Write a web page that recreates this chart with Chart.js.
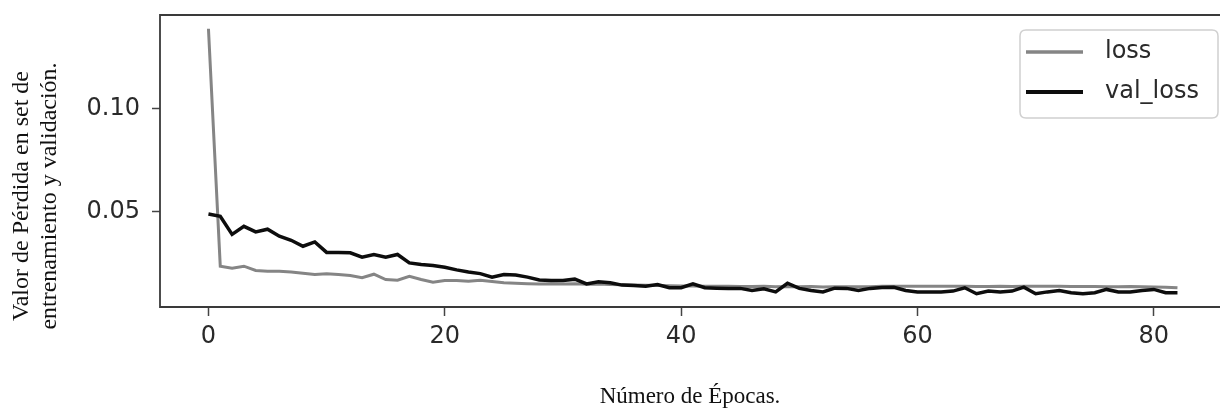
<!DOCTYPE html>
<html>
<head>
<meta charset="utf-8">
<script src="https://cdn.jsdelivr.net/npm/chart.js@4.4.1/dist/chart.umd.min.js"></script>
<style>
html,body{margin:0;padding:0;overflow:hidden;background:#fff;width:1220px;height:410px}
#wrap{position:absolute;left:0;top:0;width:1220px;height:410px}
</style>
</head>
<body>
<div id="wrap"><canvas id="c"></canvas></div>
<script>
const epochs = [0,1,2,3,4,5,6,7,8,9,10,11,12,13,14,15,16,17,18,19,20,21,22,23,24,25,26,27,28,29,30,31,32,33,34,35,36,37,38,39,40,41,42,43,44,45,46,47,48,49,50,51,52,53,54,55,56,57,58,59,60,61,62,63,64,65,66,67,68,69,70,71,72,73,74,75,76,77,78,79,80,81,82];
const loss = [0.1388,0.0233,0.0223,0.0233,0.0212,0.0209,0.0209,0.0205,0.0199,0.0193,
  0.0196,0.0193,0.0188,0.0177,0.0194,0.0168,0.0165,0.0184,0.0168,0.0155,
  0.0163,0.0163,0.0160,0.0165,0.0158,0.0152,0.0150,0.0148,0.0146,0.0147,
  0.0146,0.0148,0.0145,0.0146,0.0144,0.0143,0.0141,0.0140,0.0139,0.0138,
  0.0137,0.0137,0.0136,0.0135,0.0136,0.0134,0.0134,0.0135,0.0133,0.0134,
  0.0133,0.0134,0.0132,0.0133,0.0133,0.0133,0.0133,0.0135,0.0136,0.0136,
  0.0136,0.0136,0.0135,0.0135,0.0135,0.0134,0.0134,0.0135,0.0134,0.0135,
  0.0136,0.0136,0.0135,0.0134,0.0134,0.0134,0.0133,0.0133,0.0134,0.0133,
  0.0132,0.0131,0.0128];
const valLoss = [0.0487,0.0476,0.0388,0.0427,0.0400,0.0413,0.0379,0.0359,0.0330,0.0351,
  0.0300,0.0300,0.0298,0.0277,0.0290,0.0277,0.0290,0.0249,0.0241,0.0236,
  0.0228,0.0215,0.0205,0.0197,0.0180,0.0193,0.0190,0.0180,0.0166,0.0163,
  0.0163,0.0170,0.0147,0.0157,0.0152,0.0141,0.0139,0.0136,0.0144,0.0128,
  0.0128,0.0147,0.0128,0.0126,0.0125,0.0125,0.0115,0.0123,0.0108,0.0150,
  0.0125,0.0115,0.0108,0.0126,0.0125,0.0115,0.0125,0.0129,0.0130,0.0115,
  0.0108,0.0108,0.0108,0.0112,0.0128,0.0099,0.0112,0.0108,0.0112,0.0131,
  0.0099,0.0108,0.0115,0.0104,0.0099,0.0104,0.0120,0.0108,0.0108,0.0115,
  0.0120,0.0104,0.0104];
const xTicks = [0,20,40,60,80];
const yTicks = [0.05,0.10];
const seriesLabels = ['loss','val_loss'];
const xTitle = 'Número de Épocas.';
const yTitleLines = ['Valor de Pérdida en set de','entrenamiento y validación.'];

const toPoints = (xs, ys) => ys.map((v,i)=>({x:xs[i], y:v}));

const frameAndLegend = {
  id:'frameAndLegend',
  afterDraw(chart){
    const ctx = chart.ctx, a = chart.chartArea;
    ctx.save();
    // axes frame (right side falls outside the picture)
    ctx.strokeStyle = '#3a3a3a';
    ctx.lineWidth = 1.8;
    ctx.beginPath();
    ctx.moveTo(a.right + 2, a.top); ctx.lineTo(a.left, a.top);
    ctx.lineTo(a.left, a.bottom); ctx.lineTo(a.right + 2, a.bottom);
    ctx.stroke();
    // legend box
    const bx = 1020, by = 30, bw = 198, bh = 88, r = 6;
    ctx.beginPath();
    ctx.moveTo(bx+r,by); ctx.lineTo(bx+bw-r,by); ctx.quadraticCurveTo(bx+bw,by,bx+bw,by+r);
    ctx.lineTo(bx+bw,by+bh-r); ctx.quadraticCurveTo(bx+bw,by+bh,bx+bw-r,by+bh);
    ctx.lineTo(bx+r,by+bh); ctx.quadraticCurveTo(bx,by+bh,bx,by+bh-r);
    ctx.lineTo(bx,by+r); ctx.quadraticCurveTo(bx,by,bx+r,by);
    ctx.closePath();
    ctx.fillStyle = 'rgba(255,255,255,0.85)';
    ctx.fill();
    ctx.strokeStyle = '#d0d0d0';
    ctx.lineWidth = 1.5;
    ctx.stroke();
    const rows = [52, 92];
    chart.data.datasets.forEach((ds,i)=>{
      const y = rows[i];
      ctx.beginPath();
      ctx.strokeStyle = ds.borderColor;
      ctx.lineWidth = ds.borderWidth + 0.5;
      ctx.moveTo(1026,y); ctx.lineTo(1083,y); ctx.stroke();
      ctx.fillStyle = '#2a2a2a';
      ctx.font = '24px "DejaVu Sans"';
      ctx.textAlign = 'left';
      ctx.textBaseline = 'middle';
      ctx.fillText(ds.label, 1105, y);
    });
    // y axis title (two lines, rotated)
    ctx.translate(22, 196);
    ctx.rotate(-Math.PI/2);
    ctx.fillStyle = '#111';
    ctx.font = '24px "Liberation Serif"';
    ctx.textAlign = 'center';
    ctx.textBaseline = 'middle';
    yTitleLines.forEach((t,i)=>ctx.fillText(t, 0, i*28));
    ctx.restore();
  }
};

new Chart(document.getElementById('c'), {
  type:'line',
  data:{
    datasets:[
      {label:seriesLabels[0], data:toPoints(epochs, loss), borderColor:'#858585', borderWidth:3, pointRadius:0, tension:0, order:1},
      {label:seriesLabels[1], data:toPoints(epochs, valLoss), borderColor:'#0d0d0d', borderWidth:3.5, pointRadius:0, tension:0, order:0}
    ]
  },
  options:{
    responsive:true,
    maintainAspectRatio:false,
    animation:false,
    layout:{padding:{left:0,right:0,top:15,bottom:0}},
    plugins:{legend:{display:false}, tooltip:{enabled:false}},
    scales:{
      x:{
        type:'linear', min:-4.1, max:85.6,
        afterBuildTicks(s){ s.ticks = xTicks.map(v=>({value:v})); },
        afterFit(s){ s.height = 103; s.paddingLeft = 0; s.paddingRight = 0; },
        grid:{drawOnChartArea:false, drawTicks:true, tickLength:9, tickColor:'#444', tickWidth:1.5},
        border:{display:false},
        ticks:{padding:6, color:'#2a2a2a', font:{family:'DejaVu Sans', size:24, lineHeight:1.2}, callback:v=>String(v), maxRotation:0},
        title:{display:true, text:xTitle, color:'#111', font:{family:'Liberation Serif', size:23, lineHeight:1}, padding:{top:0,bottom:2}}
      },
      y:{
        type:'linear', min:0.00345, max:0.1455,
        afterBuildTicks(s){ s.ticks = yTicks.map(v=>({value:v})); },
        afterFit(s){ s.width = 160; s.paddingTop = 0; s.paddingBottom = 0; },
        grid:{drawOnChartArea:false, drawTicks:true, tickLength:8, tickColor:'#444', tickWidth:1.5},
        border:{display:false},
        ticks:{padding:12, color:'#2a2a2a', font:{family:'DejaVu Sans', size:24}, callback:v=>v.toFixed(2)}
      }
    }
  },
  plugins:[frameAndLegend]
});
</script>
</body>
</html>
